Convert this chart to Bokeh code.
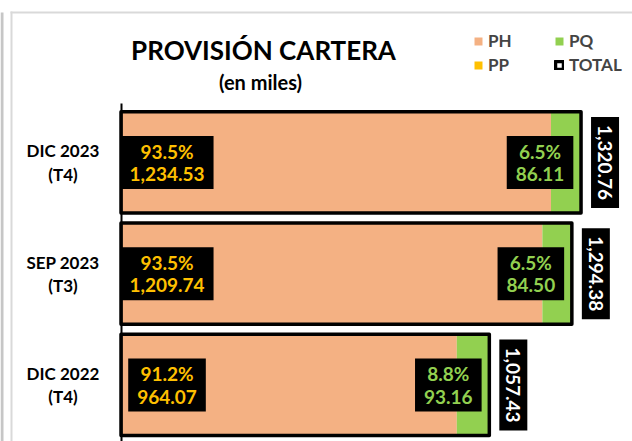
import math
from bokeh.plotting import figure
from bokeh.models import (ColumnDataSource, Range1d, Label, Legend, LegendItem,
                          FixedTicker, BoxAnnotation)
from bokeh.core.properties import value
from bokeh.embed import file_html
from bokeh.resources import INLINE

# ---- data ----
periods = ["DIC 2023", "SEP 2023", "DIC 2022"]
quarters = ["(T4)", "(T3)", "(T4)"]
ph = [1234.53, 1209.74, 964.07]
pq = [86.11, 84.50, 93.16]
total = [1320.76, 1294.38, 1057.43]

title_text = "PROVISIÓN CARTERA"
subtitle_text = "(en miles)"

PH_C = "#F4B183"
PQ_C = "#92D050"
PP_C = "#FFC000"
FONT = "Lato"

n = len(periods)
ypos = [n - 1 - i for i in range(n)]
src = ColumnDataSource(dict(
    y=ypos,
    zero=[0] * n,
    ph=ph,
    ph_pq=[a + b for a, b in zip(ph, pq)],
    total=total,
    ph_lbl=[f"{a / t * 100:.1f}%\n{a:,.2f}" for a, t in zip(ph, total)],
    pq_lbl=[f"{b / t * 100:.1f}%\n{b:,.2f}" for b, t in zip(pq, total)],
    tot_lbl=[f"{t:,.2f}" for t in total],
    cat_lbl=[f"{p}\n{q}" for p, q in zip(periods, quarters)],
))

W, H = 632, 441
p = figure(width=W, height=H, output_backend="svg", toolbar_location=None,
           x_range=Range1d(-346.0, 1468.5), y_range=Range1d(-0.508, 3.456),
           min_border=0, min_border_left=0, min_border_right=0,
           min_border_top=0, min_border_bottom=0)
p.xaxis.visible = False
p.grid.visible = False
p.outline_line_color = None
p.background_fill_color = "white"
p.border_fill_color = "white"

ya = p.yaxis[0]
ya.fixed_location = 0
ya.ticker = FixedTicker(ticks=[])
ya.major_tick_line_color = None
ya.minor_tick_line_color = None
ya.major_label_text_font_size = "0px"
ya.axis_line_color = "black"
ya.axis_line_width = 2
ya.bounds = (-0.7, 2.53)

# chart frame decorations
for l, r, b, t, c in [(0, 3, 0, 429, "#c6c6c6"), (10, 12, 0, 430, "#d9d9d9"),
                      (10, W, 428, 430, "#d9d9d9")]:
    p.add_layout(BoxAnnotation(left=l, right=r, bottom=b, top=t,
                               left_units="screen", right_units="screen",
                               bottom_units="screen", top_units="screen",
                               fill_color=c, fill_alpha=1, line_color=None, level="underlay"))

BH = 0.91
r_ph = p.hbar(y="y", left="zero", right="ph", height=BH, source=src,
              fill_color=PH_C, line_color=None)
r_pq = p.hbar(y="y", left="ph", right="ph_pq", height=BH, source=src,
              fill_color=PQ_C, line_color=None)
r_pp = p.hbar(y="y", left="zero", right="zero", height=0, source=src,
              fill_color=PP_C, line_color=None)
r_tot = p.hbar(y="y", left="zero", right="total", height=BH, source=src,
               fill_color=None, line_color="black", line_width=3.5, line_join="round")

common = dict(source=src, text_font=value(FONT), text_font_style="bold",
              text_baseline="middle", text_align="center")

p.text(x="zero", y="y", text="cat_lbl", x_offset=-58, text_color="black",
       text_font_size="17px", text_line_height=1.1, **common)

p.text(x="zero", y="y", text="ph_lbl", x_offset=46, text_color=PP_C,
       text_font_size="19px", text_line_height=0.96,
       background_fill_color="black", padding=dict(left=9, right=9, top=4, bottom=4), **common)
p.text(x="total", y="y", text="pq_lbl", x_offset=-41, text_color=PQ_C,
       text_font_size="19px", text_line_height=0.96,
       background_fill_color="black", padding=dict(left=9, right=9, top=4, bottom=4), **common)
p.text(x="total", y="y", text="tot_lbl", x_offset=24, angle=-math.pi / 2,
       text_color="white", text_font_size="19px",
       background_fill_color="black", padding=dict(left=8, right=8, top=7, bottom=7), **common)

p.add_layout(Label(x=263, y=H - 49, x_units="screen", y_units="screen", text=title_text,
                   text_align="center", text_baseline="middle", text_font=FONT,
                   text_font_style="bold", text_font_size="26px", text_color="black"))
p.add_layout(Label(x=260, y=H - 81, x_units="screen", y_units="screen", text=subtitle_text,
                   text_align="center", text_baseline="middle", text_font=FONT,
                   text_font_style="bold", text_font_size="20px", text_color="black"))

legend = Legend(items=[LegendItem(label="PH", renderers=[r_ph]),
                       LegendItem(label="PQ", renderers=[r_pq]),
                       LegendItem(label="PP", renderers=[r_pp]),
                       LegendItem(label="TOTAL", renderers=[r_tot])],
                location=(473, 366), orientation="horizontal", nrows=2,
                glyph_width=10, glyph_height=10, label_standoff=5, label_width=63,
                label_height=20, spacing=3, padding=0, margin=0,
                label_text_font=FONT, label_text_font_style="bold",
                label_text_font_size="17px", border_line_color=None,
                background_fill_alpha=0)
p.add_layout(legend)

open("out.html", "w").write(file_html(p, INLINE))
